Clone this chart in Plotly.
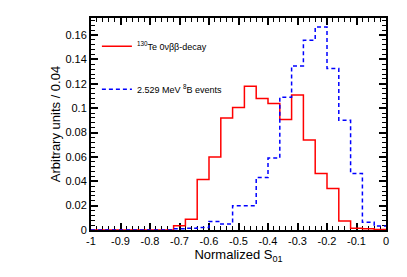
import plotly.graph_objects as go

bin_edges = [round(-1 + 0.04 * i, 2) for i in range(26)]

# 130Te 0vbb-decay, per bin (25 bins from -1 to 0)
te_values = [0, 0, 0, 0, 0, 0, 0, 0.0035, 0.0088, 0.0415,
             0.060, 0.092, 0.1006, 0.118, 0.108, 0.1038, 0.0907, 0.1107,
             0.0738, 0.0464, 0.0341, 0.0074, 0.0015, 0.001, 0.0005]

# 2.529 MeV 8B events
b8_values = [0, 0, 0, 0, 0, 0, 0, 0.001, 0.0015, 0.002,
             0.007, 0.005, 0.020, 0.020, 0.043, 0.059, 0.109, 0.1347,
             0.1557, 0.1667, 0.1325, 0.090, 0.0464, 0.0063, 0.0033]

x_ticks = [-1, -0.9, -0.8, -0.7, -0.6, -0.5, -0.4, -0.3, -0.2, -0.1, 0]
x_tick_text = ["-1", "-0.9", "-0.8", "-0.7", "-0.6", "-0.5", "-0.4", "-0.3", "-0.2", "-0.1", "0"]
y_ticks = [0, 0.02, 0.04, 0.06, 0.08, 0.1, 0.12, 0.14, 0.16]
y_tick_text = ["0", "0.02", "0.04", "0.06", "0.08", "0.1", "0.12", "0.14", "0.16"]

def step(values):
    return bin_edges, list(values) + [values[-1]]

fig = go.Figure()
xs, ys = step(te_values)
fig.add_trace(go.Scatter(x=xs, y=ys, mode="lines", line=dict(shape="hv", color="#ff0000", width=1.5),
                         name="<sup>130</sup>Te 0νββ-decay", legendgroup="a"))
xs, ys = step(b8_values)
fig.add_trace(go.Scatter(x=xs, y=ys, mode="lines", line=dict(shape="hv", color="#0000ff", width=1.5, dash="4px,3px"),
                         name="2.529 MeV <sup>8</sup>B events", legendgroup="b"))

font = dict(family="Liberation Sans, Arial, sans-serif", size=11, color="black")
fig.update_layout(
    width=407, height=277,
    margin=dict(l=91, r=21, t=18, b=47),
    paper_bgcolor="white", plot_bgcolor="white",
    font=font,
    showlegend=True,
    legend=dict(x=0.02, y=0.935, xanchor="left", yanchor="top", bgcolor="rgba(0,0,0,0)",
                font=dict(family="Liberation Sans, Arial, sans-serif", size=9, color="black"),
                itemwidth=30, tracegroupgap=24),
    xaxis=dict(range=[-1, 0], tickvals=x_ticks, ticktext=x_tick_text, ticks="inside", ticklen=7,
               tickwidth=1.5, tickcolor="black", showline=True, linecolor="black", linewidth=2,
               mirror="allticks", showgrid=False, zeroline=False, automargin=False, layer="below traces",
               minor=dict(dtick=0.02, tick0=-1, ticks="inside", ticklen=4, tickwidth=1, tickcolor="black"),
               title=dict(text="Normalized S<sub>01</sub>", standoff=2)),
    yaxis=dict(range=[0, 0.174], tickvals=y_ticks, ticktext=y_tick_text, ticks="inside", ticklen=7,
               tickwidth=1.5, tickcolor="black", showline=True, linecolor="black", linewidth=2,
               mirror="allticks", showgrid=False, zeroline=False, automargin=False, layer="below traces",
               minor=dict(dtick=0.004, tick0=0, ticks="inside", ticklen=4, tickwidth=1, tickcolor="black"),
               title=dict(text="Arbitrary units / 0.04", standoff=2)),
)
fig.write_html("out.html", config={"displayModeBar": False},
               post_script="document.body.style.margin='0';")
